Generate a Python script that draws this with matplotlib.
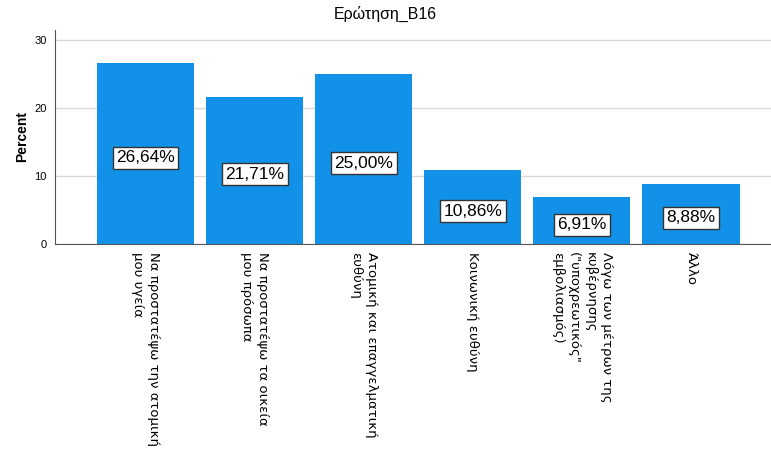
import matplotlib.pyplot as plt

categories = [
    "Να προστατέψω την ατομική\nμου υγεία",
    "Να προστατέψω τα οικεία\nμου πρόσωπα",
    "Ατομική και επαγγελματική\nευθύνη",
    "Κοινωνική ευθύνη",
    "Λόγω των μέτρων της\nκυβέρνησης\n(\"υποχρεωτικός\"\nεμβολιασμός)",
    "Άλλο",
]
percent = [26.64, 21.71, 25.00, 10.86, 6.91, 8.88]
yticks = [0, 10, 20, 30]

fig = plt.figure(figsize=(7.71, 4.55), dpi=100)
ax = fig.add_axes([55 / 771, 1 - 244 / 455, 716 / 771, 214 / 455])

x = range(len(percent))
ax.bar(x, percent, width=0.89, color="#1192E8", zorder=2)

for i, v in enumerate(percent):
    ax.text(i, v / 2 - 0.6, f"{v:.2f}%".replace(".", ","),
            ha="center", va="center", fontsize=12.5, family="Liberation Sans",
            zorder=3,
            bbox=dict(boxstyle="square,pad=0.2", fc="white", ec="#333333", lw=1))

ax.set_xlim(-0.83, 5.733)
ax.set_ylim(0, 31.5)
ax.set_yticks(yticks)
ax.set_yticklabels([str(t) for t in yticks], family="Liberation Sans", fontsize=8)
ax.set_xticks(list(x))
ax.set_xticklabels(categories, rotation=270, ha="center", va="top",
                   fontsize=9.5, family="DejaVu Sans", multialignment="left",
                   linespacing=1.35)
ax.tick_params(axis="both", length=0, pad=6)
ax.tick_params(axis="x", pad=6)

ax.grid(axis="y", color="#d9d9d9", lw=1, zorder=0)
for s in ["top", "right"]:
    ax.spines[s].set_visible(False)
ax.spines["left"].set_color("#555555")
ax.spines["bottom"].set_color("#555555")

ax.set_ylabel("Percent", family="Liberation Sans", fontsize=10, fontweight="bold", labelpad=4)
fig.text(0.5, 1 - 14 / 455, "Ερώτηση_B16", ha="center", va="center",
         family="Liberation Sans", fontsize=11.5)

plt.savefig("out.png")
plt.close()
